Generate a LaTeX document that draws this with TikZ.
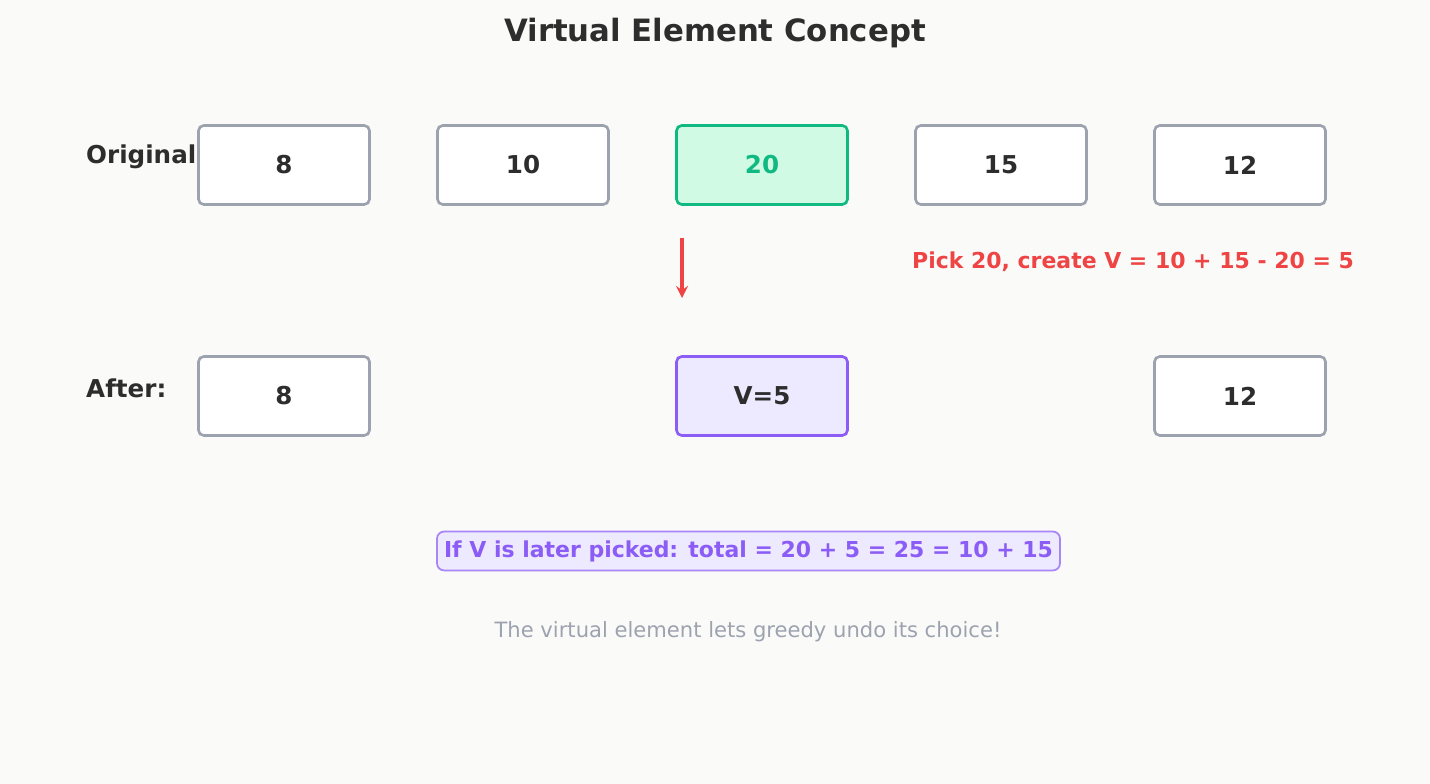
\documentclass[tikz,border=0pt]{standalone}
\usepackage{fontspec}
\setmainfont{DejaVu Sans}
\usetikzlibrary{positioning}
\definecolor{bgcol}{HTML}{FAFAF9}
\definecolor{ink}{HTML}{2D2D2D}
\definecolor{boxgray}{HTML}{9CA3AF}
\definecolor{pickgreen}{HTML}{10B981}
\definecolor{pickfill}{HTML}{D1FAE5}
\definecolor{virtpurple}{HTML}{8B5CF6}
\definecolor{virtfill}{HTML}{EDE9FE}
\definecolor{alertred}{HTML}{EF4444}
\tikzset{
  cell/.style={draw=boxgray, line width=1.5pt, fill=white, rounded corners=3pt, minimum width=3.42cm, minimum height=1.58cm, text=ink, font=\fontsize{14}{16}\selectfont\bfseries},
  picked/.style={cell, draw=pickgreen, fill=pickfill, text=pickgreen},
  virtual/.style={cell, draw=virtpurple, fill=virtfill},
  rowlabel/.style={anchor=west, text=ink, font=\fontsize{14}{16}\selectfont\bfseries},
  arrow/.style={line width=2pt, alertred, ->, >=stealth}
}
\begin{document}
\begin{tikzpicture}
\fill[bgcol] (0,0) rectangle (28.6,15.68);
\useasboundingbox (0,0) rectangle (28.6,15.68);

% Title
\node (title) [text=ink, font=\fontsize{17.5}{20}\selectfont\bfseries] at (14.3,15.02) {Virtual Element Concept};

% Original row
\node (orig)  [rowlabel] at (1.6,12.54) {Original:};
\node (o8)    [cell]   at (5.68,12.38)  {8};
\node (o10)   [cell]   at (10.46,12.38) {10};
\node (o20)   [picked] at (15.24,12.38) {20};
\node (o15)   [cell]   at (20.02,12.38) {15};
\node (o12)   [cell]   at (24.80,12.38) {12};

% Step arrow and note
\coordinate (arrtop) at (13.64,10.92);
\coordinate (arrbot) at (13.64,9.72);
\draw [arrow] (arrtop) -- (arrbot);
\node (note) [text=alertred, font=\fontsize{12.5}{14}\selectfont\bfseries] at (22.66,10.44) {Pick 20, create V = 10 + 15 - 20 = 5};

% After row
\node (after) [rowlabel] at (1.6,7.92) {After:};
\node (a8)    [cell]    at (5.68,7.76)  {8};
\node (av)    [virtual] at (15.24,7.76) {V=5};
\node (a12)   [cell]    at (24.80,7.76) {12};

% Explanation
\node (total) [draw=virtpurple!75, line width=1pt, fill=virtfill, rounded corners=4pt, inner xsep=4pt, inner ysep=5pt, text=virtpurple, font=\fontsize{12.5}{14}\selectfont\bfseries] at (14.97,4.66) {If V is later picked: total = 20 + 5 = 25 = 10 + 15};
\node (moral) [text=boxgray, font=\fontsize{12}{14}\selectfont] at (14.96,3.04) {The virtual element lets greedy undo its choice!};
\end{tikzpicture}
\end{document}
